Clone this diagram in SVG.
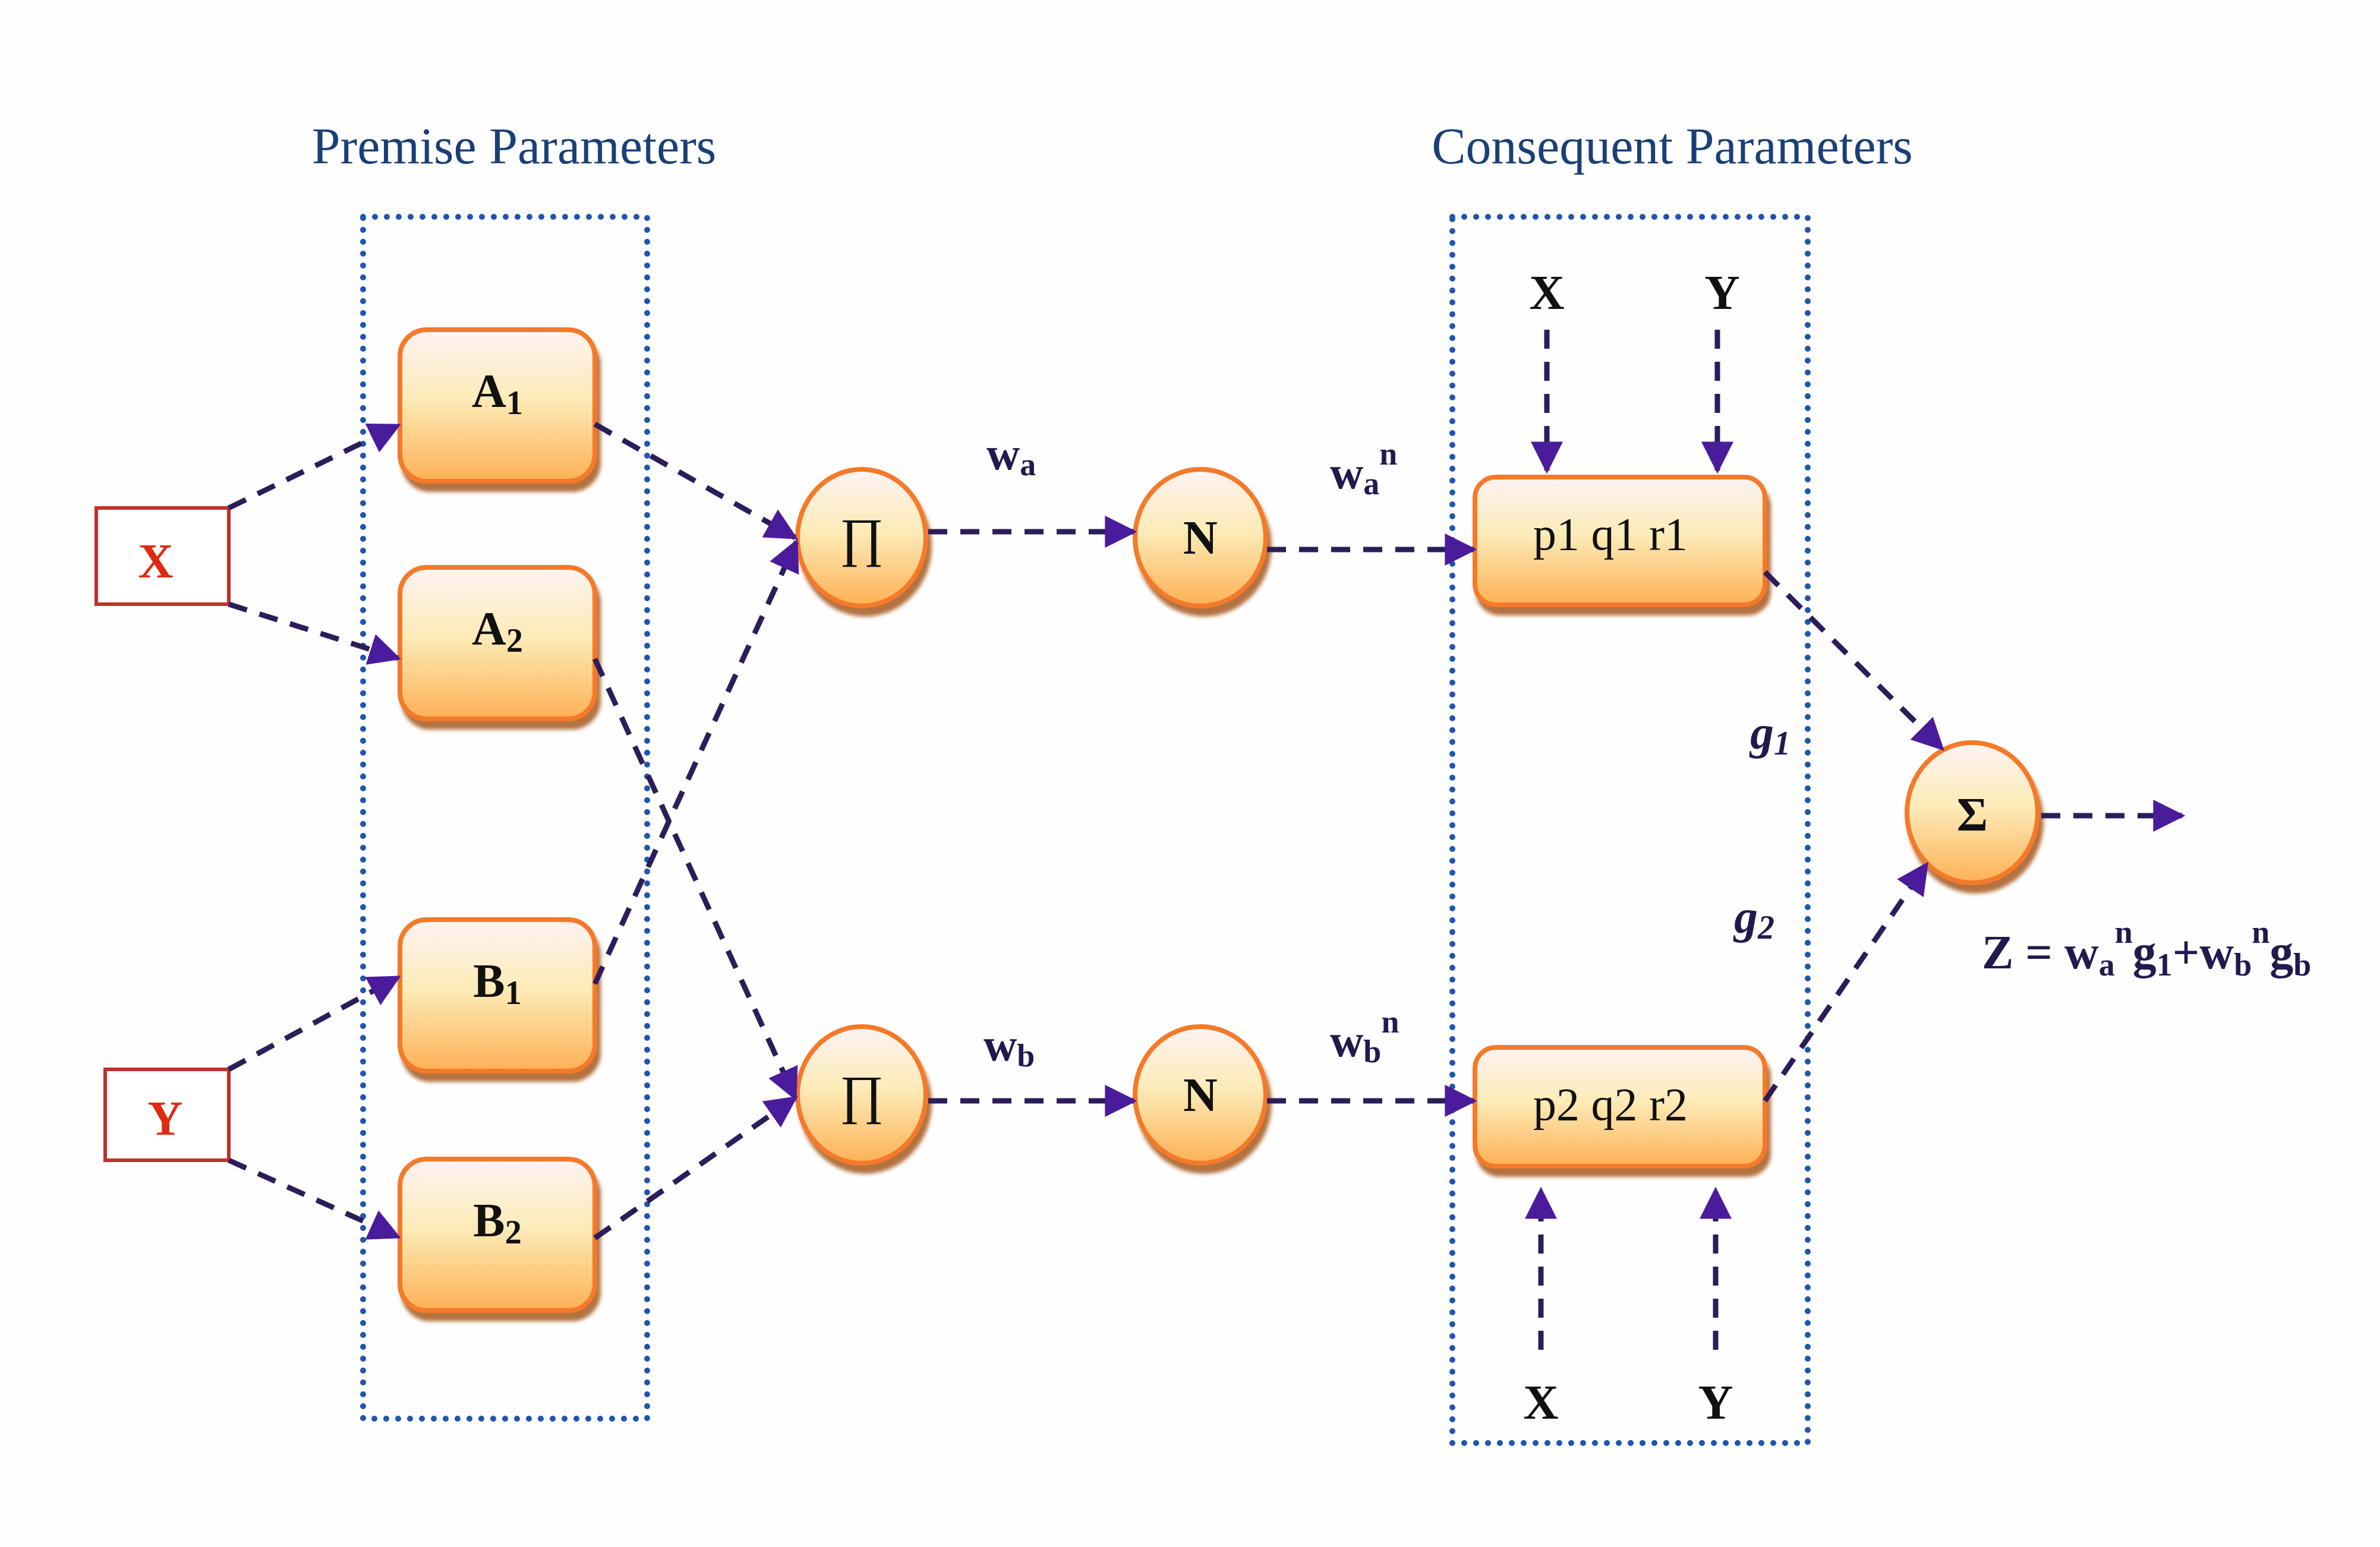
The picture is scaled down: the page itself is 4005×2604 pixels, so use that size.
<svg xmlns="http://www.w3.org/2000/svg" width="4005" height="2604" viewBox="0 0 4005 2604">
<defs>
<linearGradient id="g" x1="0" y1="0" x2="0" y2="1">
<stop offset="0" stop-color="#fdf3f3"/><stop offset="0.45" stop-color="#fdebb8"/><stop offset="1" stop-color="#fdb155"/>
</linearGradient>
<marker id="ah" viewBox="0 0 10 10" refX="9" refY="5" markerWidth="6" markerHeight="6" markerUnits="strokeWidth" orient="auto">
<path d="M0,0 L10,5 L0,10 z" fill="#4a1c9c"/>
</marker>
<filter id="sh" x="-20%" y="-20%" width="140%" height="150%"><feDropShadow dx="6" dy="14" stdDeviation="3" flood-color="#a05010" flood-opacity="0.8"/></filter>
</defs>
<style>
.bx{fill:url(#g);stroke:#f47a2a;stroke-width:8;filter:url(#sh)}
.t{font-family:"Liberation Serif",serif;font-weight:bold;fill:#111;text-anchor:middle}
.lb{font-family:"Liberation Serif",serif;font-weight:bold;fill:#24184e}
.dot{fill:none;stroke:#1f55b0;stroke-width:10;stroke-linecap:round;stroke-dasharray:0 20}
.c{fill:none;stroke:#2c1d5a;stroke-width:9;stroke-dasharray:32 22;marker-end:url(#ah)}
.title{font-family:"Liberation Serif",serif;font-size:86px;fill:#1a3f78;text-anchor:middle}
</style>
<rect width="4005" height="2604" fill="#fefefe"/>
<text class="title" x="865" y="275">Premise Parameters</text>
<text class="title" x="2814" y="275">Consequent Parameters</text>
<rect class="dot" x="611" y="365" width="478" height="2023"/>
<rect class="dot" x="2444" y="365" width="598" height="2064"/>
<g id="X"><rect x="162" y="855" width="223" height="162" fill="#fff" stroke="#c0302a" stroke-width="6"/><text class="t" x="262" y="972" font-size="82" fill="#e02a10" style="fill:#e02a10">X</text></g>
<g id="Y"><rect x="177" y="1800" width="208" height="153" fill="#fff" stroke="#c0302a" stroke-width="6"/><text class="t" x="278" y="1910" font-size="82" style="fill:#e02a10">Y</text></g>
<g id="A1"><rect class="bx" x="673" y="555" width="328" height="255" rx="45"/><text class="t" x="837" y="685" font-size="80">A<tspan font-size="56" dy="12">1</tspan></text></g>
<g id="A2"><rect class="bx" x="673" y="955" width="328" height="255" rx="45"/><text class="t" x="837" y="1085" font-size="80">A<tspan font-size="56" dy="12">2</tspan></text></g>
<g id="B1"><rect class="bx" x="673" y="1548" width="328" height="255" rx="45"/><text class="t" x="837" y="1678" font-size="80">B<tspan font-size="56" dy="12">1</tspan></text></g>
<g id="B2"><rect class="bx" x="673" y="1951" width="328" height="255" rx="45"/><text class="t" x="837" y="2081" font-size="80">B<tspan font-size="56" dy="12">2</tspan></text></g>
<g id="P1"><ellipse class="bx" cx="1450" cy="905" rx="108" ry="115"/><text class="t" x="1450" y="935" font-size="90" style="font-weight:normal">∏</text></g>
<g id="P2"><ellipse class="bx" cx="1450" cy="1843" rx="108" ry="115"/><text class="t" x="1450" y="1873" font-size="90" style="font-weight:normal">∏</text></g>
<g id="N1"><ellipse class="bx" cx="2020" cy="905" rx="110" ry="115"/><text class="t" x="2020" y="932" font-size="80">N</text></g>
<g id="N2"><ellipse class="bx" cx="2020" cy="1843" rx="110" ry="115"/><text class="t" x="2020" y="1870" font-size="80">N</text></g>
<g id="R1"><rect class="bx" x="2482" y="803" width="488" height="215" rx="35"/><text class="t" x="2710" y="925" font-size="78" style="font-weight:normal">p1 q1 r1</text></g>
<g id="R2"><rect class="bx" x="2482" y="1763" width="488" height="200" rx="35"/><text class="t" x="2710" y="1885" font-size="78" style="font-weight:normal">p2 q2 r2</text></g>
<g id="S"><ellipse class="bx" cx="3319" cy="1368" rx="110" ry="118"/><text class="t" x="3319" y="1398" font-size="80">Σ</text></g>
<g id="labels">
<text class="lb" x="1660" y="790" font-size="78">w<tspan font-size="54" dy="10">a</tspan></text>
<text class="lb" x="1655" y="1785" font-size="78">w<tspan font-size="54" dy="10">b</tspan></text>
<text class="lb" x="2238" y="822" font-size="78">w<tspan font-size="54" dy="10">a</tspan><tspan font-size="54" dy="-50">n</tspan></text>
<text class="lb" x="2238" y="1778" font-size="78">w<tspan font-size="54" dy="10">b</tspan><tspan font-size="54" dy="-50">n</tspan></text>
<text class="lb" x="2945" y="1260" font-size="80" font-style="italic">g<tspan font-size="56" dy="10">1</tspan></text>
<text class="lb" x="2918" y="1570" font-size="80" font-style="italic">g<tspan font-size="56" dy="10">2</tspan></text>
<text class="lb" x="3335" y="1630" font-size="80">Z = w<tspan font-size="54" dy="12">a</tspan><tspan font-size="54" dy="-55">n</tspan><tspan dy="43">g</tspan><tspan font-size="54" dy="12">1</tspan><tspan dy="-12">+w</tspan><tspan font-size="54" dy="12">b</tspan><tspan font-size="54" dy="-55">n</tspan><tspan dy="43">g</tspan><tspan font-size="54" dy="12">b</tspan></text>
<text class="t" x="2603" y="520" font-size="82">X</text>
<text class="t" x="2898" y="520" font-size="82">Y</text>
<text class="t" x="2593" y="2388" font-size="82">X</text>
<text class="t" x="2887" y="2388" font-size="82">Y</text>
</g>
<g id="connectors">
<path class="c" d="M385,855 L670,716"/>
<path class="c" d="M385,1017 L670,1108"/>
<path class="c" d="M385,1800 L670,1645"/>
<path class="c" d="M385,1953 L670,2082"/>
<path class="c" d="M1001,714 L1338,905"/>
<path class="c" d="M1001,1109 L1338,1848"/>
<path class="c" d="M1001,1656 L1340,912"/>
<path class="c" d="M1001,2084 L1338,1848"/>
<path class="c" d="M1562,895 L1908,895"/>
<path class="c" d="M2132,925 L2480,925"/>
<path class="c" d="M1562,1853 L1908,1853"/>
<path class="c" d="M2132,1853 L2480,1853"/>
<path class="c" d="M2970,963 L3268,1260"/>
<path class="c" d="M2970,1853 L3242,1455"/>
<path class="c" d="M3435,1373 L3672,1373"/>
<path class="c" d="M2603,555 L2603,792"/>
<path class="c" d="M2890,555 L2890,792"/>
<path class="c" d="M2593,2272 L2593,2003"/>
<path class="c" d="M2887,2272 L2887,2003"/>
</g>
</svg>
